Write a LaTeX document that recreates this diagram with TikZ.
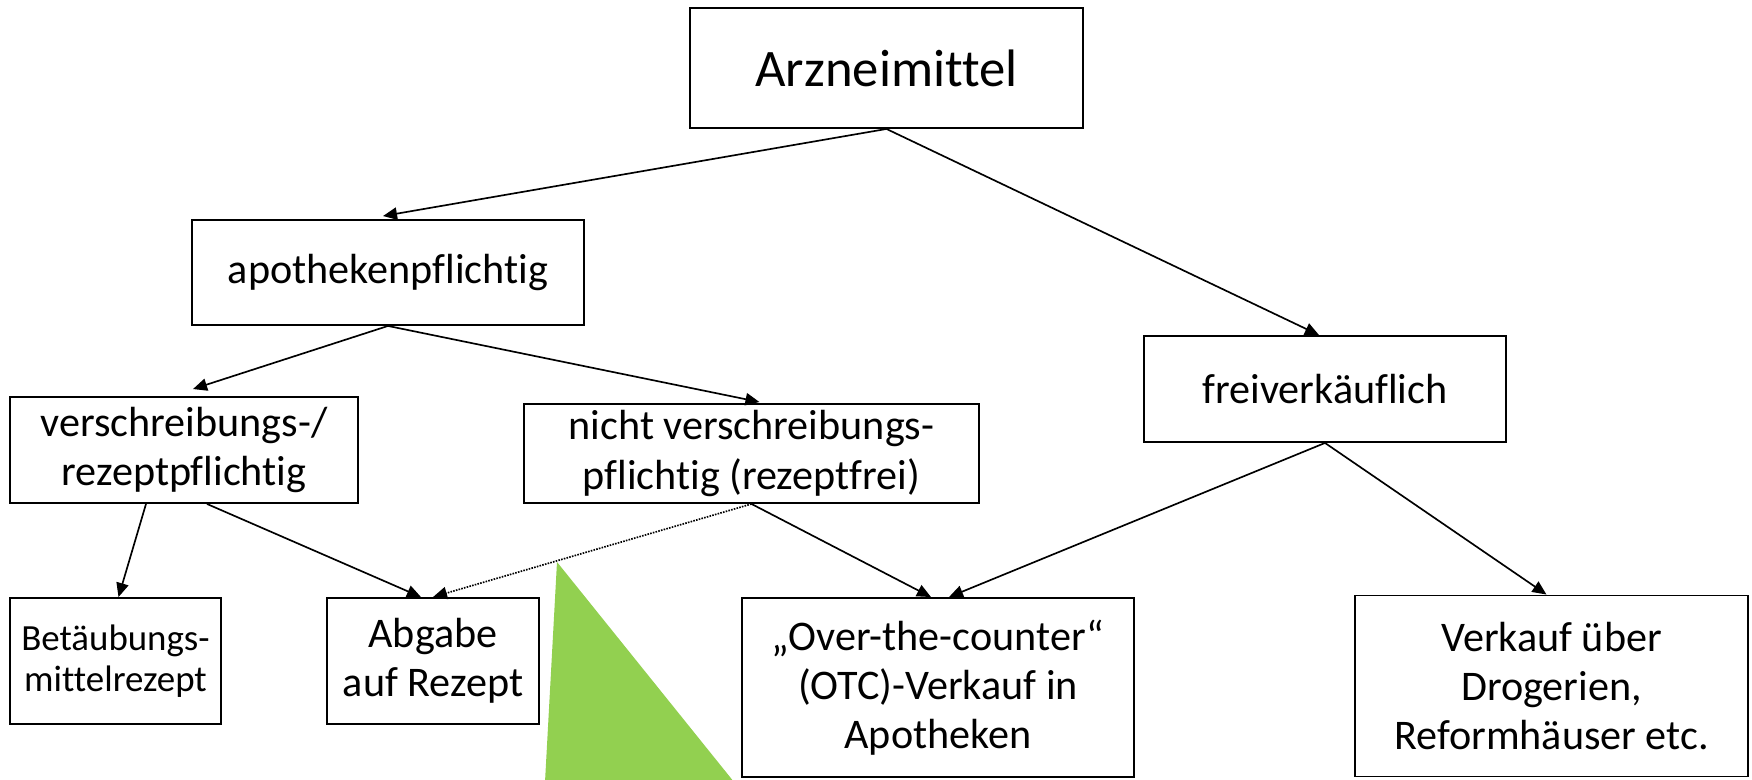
\documentclass[tikz,border=0pt]{standalone}
\usepackage{fontspec}
\setmainfont{Carlito}[Ligatures=NoCommon]
\usetikzlibrary{arrows.meta,calc}
\definecolor{blattgruen}{RGB}{146,208,80}

\begin{document}
\begin{tikzpicture}[x=0.02cm,y=-0.02cm,>={Triangle[length=8pt,width=7pt]},
      box/.style={draw,line width=1.1pt,align=center,inner sep=2pt,font=\fontsize{24}{28}\selectfont},
      klein/.style={font=\fontsize{21}{23}\selectfont},
      pfeil/.style={->,line width=0.95pt}]
    \useasboundingbox (0,0) rectangle (1752,780);
    % green marker
    \fill[blattgruen] (557,562) -- (545,782) -- (734,782) -- cycle;
    % first level
    \node[box,minimum width=7.86cm,minimum height=2.4cm,font=\fontsize{30}{36}\selectfont] (arz) at (886.5,68) {Arzneimittel};
    % second level
    \node[box,minimum width=7.84cm,minimum height=2.1cm] (apo) at (388,272.5) {apothekenpflichtig};
    \node[box,minimum width=7.24cm,minimum height=2.12cm] (frei) at (1325,389) {freiverkäuflich};
    % third level
    \node[box,minimum width=6.96cm,minimum height=2.12cm] (rx) at (184,450) {verschreibungs-/\\rezeptpflichtig};
    \node[box,minimum width=9.1cm,minimum height=1.98cm] (nrx) at (751.5,453.5) {nicht verschreibungs-\\pflichtig (rezeptfrei)};
    % bottom row
    \node[box,klein,minimum width=4.22cm,minimum height=2.52cm] (btm) at (115.5,661) {Betäubungs-\\mittelrezept};
    \node[box,minimum width=4.24cm,minimum height=2.52cm] (abg) at (433,661) {Abgabe\\auf Rezept};
    \node[box,minimum width=7.84cm,minimum height=3.58cm] (otc) at (938,687.5) {„Over-the-counter“\\(OTC)-Verkauf in\\Apotheken};
    \node[box,minimum width=7.86cm,minimum height=3.62cm] (drog) at (1551.5,686) {Verkauf über\\Drogerien,\\Reformhäuser etc.};
    % connectors
    \draw[pfeil] (arz.south) -- ($(apo.north)+(-5,-3)$);
    \draw[pfeil] (arz.south) -- ($(frei.north)+(-6,0)$);
    \draw[pfeil] (apo.south) -- ($(rx.north)+(9,-7)$);
    \draw[pfeil] (apo.south) -- ($(nrx.north)+(8,-1)$);
    \draw[pfeil] ($(rx.south)+(-38,0)$) -- ($(btm.north)+(3,0)$);
    \draw[pfeil] ($(rx.south)+(23,0)$) -- ($(abg.north)+(-12,0)$);
    \draw[pfeil,dash pattern=on 0.9pt off 0.7pt] (nrx.south) -- (abg.north);
    \draw[pfeil] (nrx.south) -- ($(otc.north)+(-7,0)$);
    \draw[pfeil] (frei.south) -- ($(otc.north)+(11,0)$);
    \draw[pfeil] (frei.south) -- ($(drog.north)+(-5,0)$);
  \end{tikzpicture}
\end{document}
